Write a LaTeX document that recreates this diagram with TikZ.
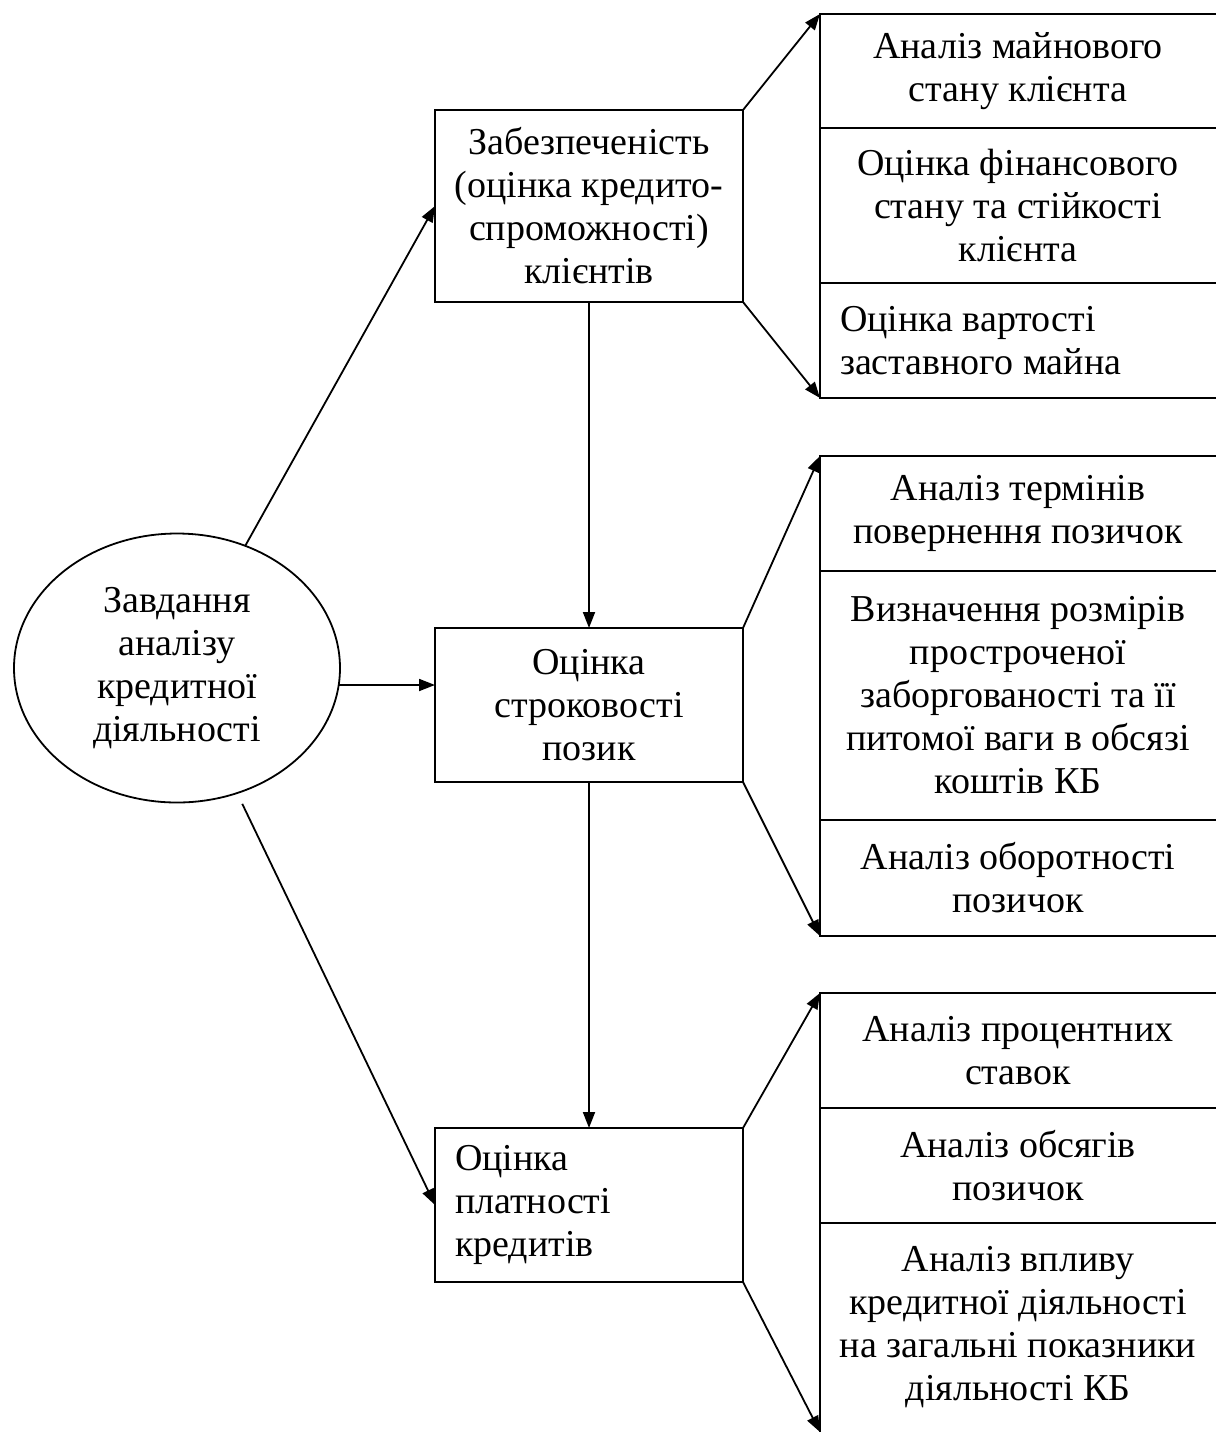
\documentclass[tikz,border=0pt]{standalone}
\usepackage{fontspec}
\setmainfont{Liberation Serif}
\usetikzlibrary{arrows.meta,shapes.geometric}
\begin{document}
\begin{tikzpicture}[x=0.5pt,y=-0.5pt,
  every node/.style={font=\fontsize{19}{21.5}\selectfont, inner sep=0pt, outer sep=0pt},
  ln/.style={line width=0.9pt},
  arr/.style={ln, -{Triangle[length=8pt,width=6pt]}},
  midbox/.style={draw, ln, minimum width=154pt, align=center, minimum height=#1},
  rbox/.style={minimum width=198pt, align=center, minimum height=#1},
  ltext/.style={anchor=west, align=left}]
\useasboundingbox (0,0) rectangle (1216,1432);

% central ellipse
\node[ellipse, draw, ln, minimum width=163pt, minimum height=134.5pt, align=center] (ell) at (177,668)
  {Завдання\\аналізу\\кредитної\\діяльності};

% middle column
\node[midbox=96pt] (b1) at (589,206) {Забезпеченість\\(оцінка кредито-\\спроможності)\\клієнтів};
\node[midbox=77pt] (b2) at (589,705) {Оцінка\\строковості\\позик};
\node[midbox=77pt] (b3) at (589,1205) {};
\node[ltext] (b3t) at ([xshift=10pt]b3.west) {Оцінка\\платності\\кредитів};

% right column, group 1
\node[rbox=57pt] (r11) at (1018,71) {Аналіз майнового\\стану клієнта};
\node[rbox=77.5pt] (r12) at (1018,205.5) {Оцінка фінансового\\стану та стійкості\\клієнта};
\node[rbox=57.5pt] (r13) at (1018,340.5) {};
\node[ltext] (r13t) at ([xshift=10pt]r13.west) {Оцінка вартості\\заставного майна};

% group 2
\node[rbox=57.5pt] (r21) at (1018,513.5) {Аналіз термінів\\повернення позичок};
\node[rbox=124.5pt] (r22) at (1018,695.5) {Визначення розмірів\\простроченої\\заборгованості та її\\питомої ваги в обсязі\\коштів КБ};
\node[rbox=58pt] (r23) at (1018,878) {Аналіз оборотності\\позичок};

% group 3
\node[rbox=57.5pt] (r31) at (1018,1050.5) {Аналіз процентних\\ставок};
\node[rbox=57.5pt] (r32) at (1018,1165.5) {Аналіз обсягів\\позичок};
\node[rbox=104.5pt] (r33) at (1018,1327.5) {Аналіз впливу\\кредитної діяльності\\на загальні показники\\діяльності КБ};

% open-ended right boxes (no right border)
\foreach \n in {r11,r12,r13,r21,r22,r23,r31,r32}
  \draw[ln] (\n.north east) -- (\n.north west) -- (\n.south west) -- (\n.south east);
\draw[ln] (r33.north east) -- (r33.north west) -- (r33.south west);

% connectors from ellipse
\draw[arr] (ell) -- (b1.west);
\draw[arr] (ell.-6) -- (ell.-6 -| b2.west);
\draw[arr, shorten <=6pt] (ell) -- (b3.west);

% vertical connectors
\draw[arr] (b1) -- (b2);
\draw[arr] (b2) -- (b3);

% fan-out connectors
\draw[arr] (b1.north east) -- (r11.north west);
\draw[arr] (b1.south east) -- (r13.south west);
\draw[arr] (b2.north east) -- (r21.north west);
\draw[arr] (b2.south east) -- (r23.south west);
\draw[arr] (b3.north east) -- (r31.north west);
\draw[arr] (b3.south east) -- (r33.south west);
\end{tikzpicture}
\end{document}
